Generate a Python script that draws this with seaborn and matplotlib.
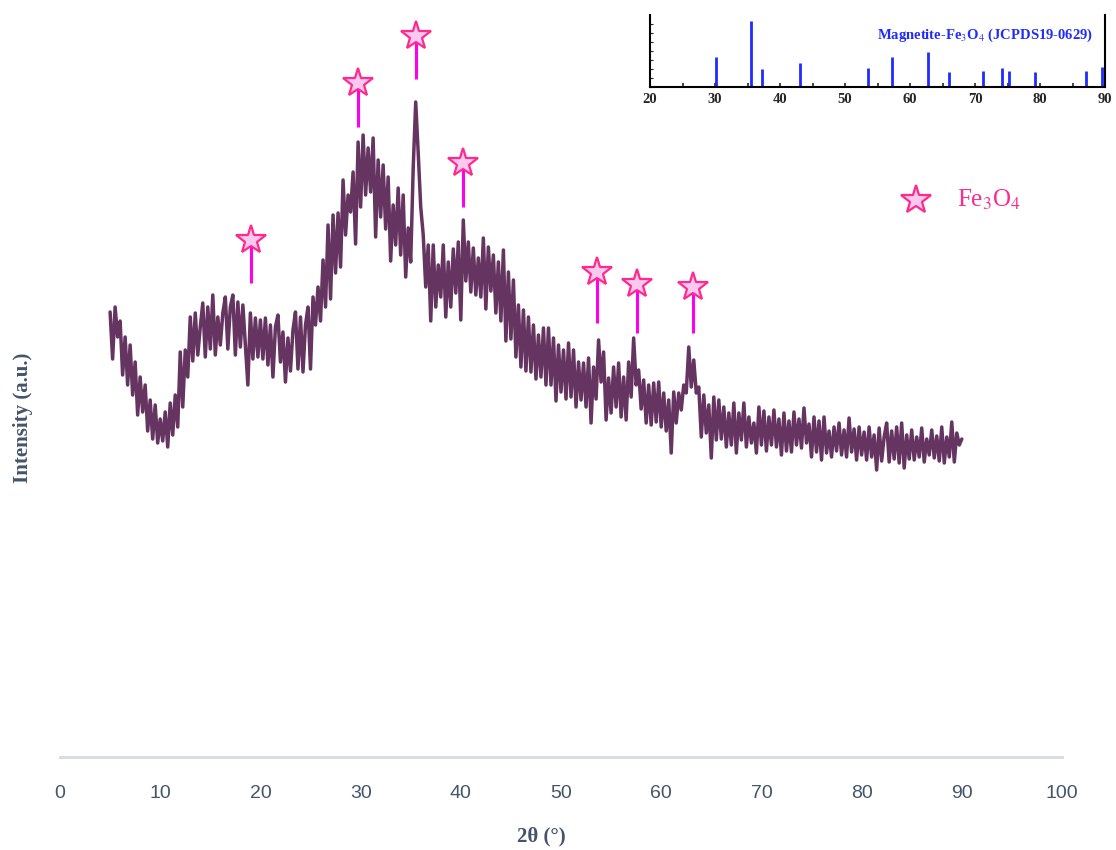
import numpy as np
import pandas as pd
import matplotlib
matplotlib.use("Agg")
import matplotlib.pyplot as plt
import seaborn as sns

# XRD scan, 2-theta from 5 to 90 deg in 0.25 deg steps (intensity in arbitrary units)
two_theta = np.arange(5.0, 90.001, 0.25)
intensity = [
    445, 398, 450, 420,  436, 382, 420, 372,  412, 362, 395, 342,  380, 345, 372, 326,
    357, 318, 352, 314,  338, 316, 345, 310,  354, 322, 362, 330,  405, 350, 407, 380,
    440, 396, 444, 402,  430, 454, 400, 450,  408, 462, 402, 440,  412, 444, 460, 408,
    450, 462, 402, 455,  410, 452, 412, 372,  444, 398, 439, 400,  437, 398, 439, 392,
    432, 380, 430, 442,  395, 425, 375, 419,  386, 427, 445, 388,  440, 385, 432, 450,
    388, 460, 432, 470,  436, 497, 450, 532,  458, 542, 484, 544,  490, 577, 522, 562,
    545, 585, 513, 615,  550, 622, 562, 609,  565, 619, 520, 597,  540, 592, 528, 580,
    496, 552, 512, 569,  502, 562, 480, 529,  495, 589, 655, 604,  550, 522, 470, 512,
    436, 512, 450, 492,  460, 512, 440, 495,  450, 508, 464, 515,  437, 537, 476, 515,
    465, 509, 462, 499,  460, 519, 448, 510,  466, 502, 444, 495,  436, 507, 416, 485,
    418, 477, 400, 452,  390, 447, 386, 440,  385, 432, 378, 422,  380, 429, 372, 429,
    372, 419, 356, 412,  365, 407, 358, 414,  360, 407, 350, 395,  357, 394, 350, 399,
    334, 390, 358, 417,  375, 405, 337, 379,  344, 390, 350, 394,  340, 380, 337, 395,
    360, 419, 372, 387,  348, 377, 334, 372,  332, 374, 335, 375,  330, 364, 326, 357,
    304, 365, 334, 364,  347, 372, 364, 410,  370, 397, 364, 370,  320, 362, 324, 352,
    299, 360, 317, 357,  318, 350, 310, 344,  312, 354, 304, 344,  317, 354, 310, 340,
    314, 334, 304, 350,  312, 346, 306, 340,  312, 347, 310, 338,  302, 344, 306, 336,
    305, 345, 312, 338,  309, 349, 314, 333,  300, 340, 305, 336,  297, 340, 304, 326,
    300, 330, 306, 334,  302, 327, 300, 339,  305, 328, 297, 330,  302, 325, 297, 330,
    300, 322, 287, 329,  296, 320, 334, 295,  326, 298, 330, 294,  334, 289, 322, 298,
    327, 297, 320, 300,  329, 295, 318, 302,  327, 299, 321, 296,  330, 294, 320, 300,
    335, 295, 324, 312,  318,
]

# Fe3O4 peaks marked with stars
peak_pos = [19.1, 29.7, 35.5, 40.2, 53.6, 57.6, 63.2]
peak_star = [517, 674, 721, 594, 485, 473, 470]
peak_base = [474, 630, 678, 550, 434, 424, 424]

# JCPDS 19-0629 reference lines (inset)
ref_pos = [30.1, 35.5, 37.2, 43.1, 53.6, 57.2, 62.7, 66.0, 71.2, 74.2, 75.2, 79.2, 87.0, 89.6]
ref_int = [30, 66, 18, 24, 19, 30, 35, 15, 16, 19, 16, 15, 16, 20]

sns.set_style("white")
plt.rcParams["font.family"] = ["Liberation Sans Narrow", "Liberation Sans", "DejaVu Sans"]
plt.rcParams["mathtext.fontset"] = "stix"

df = pd.DataFrame({"two_theta": two_theta, "intensity": intensity})

fig = plt.figure(figsize=(11.16, 8.5), dpi=100)
ax = fig.add_axes([60 / 1116, 93 / 850, 1002 / 1116, 757 / 850])

sns.lineplot(data=df, x="two_theta", y="intensity", ax=ax, color="#653461",
             linewidth=2.5, estimator=None)

ax.vlines(peak_pos, peak_base, peak_star, color="#ff00ee", linewidth=2.2, zorder=3)
ax.plot(peak_pos, peak_star, linestyle="none", marker="*", markersize=22,
        markerfacecolor="#fbc8f0", markeredgecolor="#ff2a8c", markeredgewidth=1.6, zorder=4)

# legend-like label
ax.plot([85.4], [557], linestyle="none", marker="*", markersize=22,
        markerfacecolor="#fbc8f0", markeredgecolor="#ff2a8c", markeredgewidth=1.6)
ax.text(89.5, 557, "Fe$_3$O$_4$", color="#ff2a8c", fontsize=18,
        family="Liberation Serif", ha="left", va="center")

ax.set_xlim(0, 100)
ax.set_ylim(0, 757)
ax.set_xticks(range(0, 101, 10))
ax.set_yticks([])
ax.tick_params(axis="x", length=0, pad=20, labelsize=14, labelcolor="#44546a")
for s in ["top", "right", "left"]:
    ax.spines[s].set_visible(False)
ax.spines["bottom"].set_color("#d9dde2")
ax.spines["bottom"].set_linewidth(2.2)
ax.set_xlabel("")
ax.set_ylabel("")

fig.text(541 / 1116, 1 - 836 / 850, "2θ (°)", ha="center", va="center", fontsize=15,
         fontweight="bold", color="#44546a", family="Liberation Serif")
fig.text(23 / 1116, 1 - 418 / 850, "Intensity (a.u.)", ha="center", va="center",
         rotation=90, fontsize=15, fontweight="bold", color="#44546a",
         family="Liberation Serif")

# inset with reference pattern
ins = fig.add_axes([650 / 1116, 1 - 87 / 850, 455 / 1116, 72 / 850])
ins.vlines(ref_pos, 0, ref_int, color="#1f2bff", linewidth=2.0, clip_on=False)
ins.set_xlim(20, 90)
ins.set_ylim(0, 72)
ins.set_xticks(range(20, 91, 10))
ins.set_xticks(range(25, 90, 10), minor=True)
ins.set_yticks([])
ins.set_yticks(np.arange(0, 72, 9), minor=True)
ins.tick_params(axis="x", which="both", direction="in", bottom=True, length=3, width=1.2,
                pad=4, labelsize=10.5)
ins.tick_params(axis="y", which="minor", direction="in", left=True, length=2.5, width=0.8)
for lab in ins.get_xticklabels():
    lab.set_fontweight("bold")
    lab.set_family("Liberation Serif")
ins.spines["top"].set_visible(False)
for s in ["left", "right", "bottom"]:
    ins.spines[s].set_color("black")
    ins.spines[s].set_linewidth(1.5)
ins.patch.set_alpha(0)
ins.text(71.5, 52, "Magnetite-Fe$_3$O$_4$ (JCPDS19-0629)", color="#1f2bff", fontsize=10.5,
         fontweight="bold", family="Liberation Serif", ha="center", va="center")

fig.savefig("out.png", dpi=100)
